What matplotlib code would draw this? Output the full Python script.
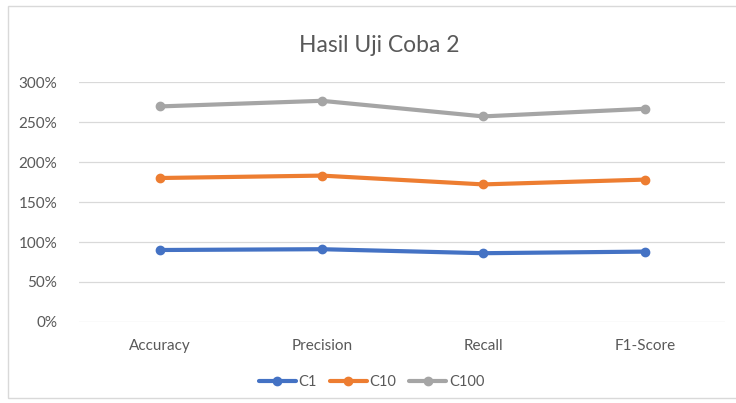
import matplotlib
matplotlib.use("Agg")
import matplotlib.pyplot as plt
from matplotlib.ticker import PercentFormatter
from matplotlib.patches import Rectangle
import numpy as np

categories = ["Accuracy", "Precision", "Recall", "F1-Score"]
series_names = ["C1", "C10", "C100"]
c1 = [0.90, 0.91, 0.86, 0.88]
c10 = [0.90, 0.92, 0.86, 0.90]
c100 = [0.895, 0.935, 0.85, 0.885]
colors = ["#4472C4", "#ED7D31", "#A5A5A5"]
yticks = [0, 0.5, 1.0, 1.5, 2.0, 2.5, 3.0]

plt.rcParams['font.family'] = ['Lato', 'DejaVu Sans']
txt = "#595959"

fig = plt.figure(figsize=(7.36, 4.03), dpi=100)
fig.patch.set_facecolor("white")
fig.patches.append(Rectangle((8/736, 5/403), 740/736, (392)/403, transform=fig.transFigure,
                             fill=False, edgecolor="#D9D9D9", linewidth=1.0))

ax = fig.add_axes([0.108, 0.201, 0.8777, 0.5955])
x = np.arange(len(categories))
stack = np.zeros(len(categories))
for name, vals, col in zip(series_names, [c1, c10, c100], colors):
    stack = stack + np.array(vals)
    ax.plot(x, stack, color=col, linewidth=3, marker="o", markersize=6,
            label=name, solid_capstyle="round", zorder=3)

ax.set_xlim(-0.5, len(categories) - 0.5)
ax.set_ylim(0, 3.0)
ax.set_yticks(yticks)
ax.yaxis.set_major_formatter(PercentFormatter(1.0, decimals=0))
ax.set_xticks(x)
ax.set_xticklabels(categories)
ax.grid(axis="y", color="#D9D9D9", linewidth=0.9)
ax.set_axisbelow(True)
for s in ax.spines.values():
    s.set_visible(False)
ax.tick_params(axis="both", length=0, colors=txt, labelsize=11)
ax.tick_params(axis="x", pad=12)
ax.tick_params(axis="y", pad=16)

fig.text(0.515, 0.888, "Hasil Uji Coba 2", ha="center", va="center", fontsize=16.5, color=txt)

leg = fig.legend(loc="center", bbox_to_anchor=(0.505, 0.052), ncol=3, frameon=False,
                 fontsize=10.5, handlelength=2.5, columnspacing=0.9, handletextpad=0.2)
for t in leg.get_texts():
    t.set_color(txt)

fig.savefig("out.png", dpi=100, facecolor="white")
